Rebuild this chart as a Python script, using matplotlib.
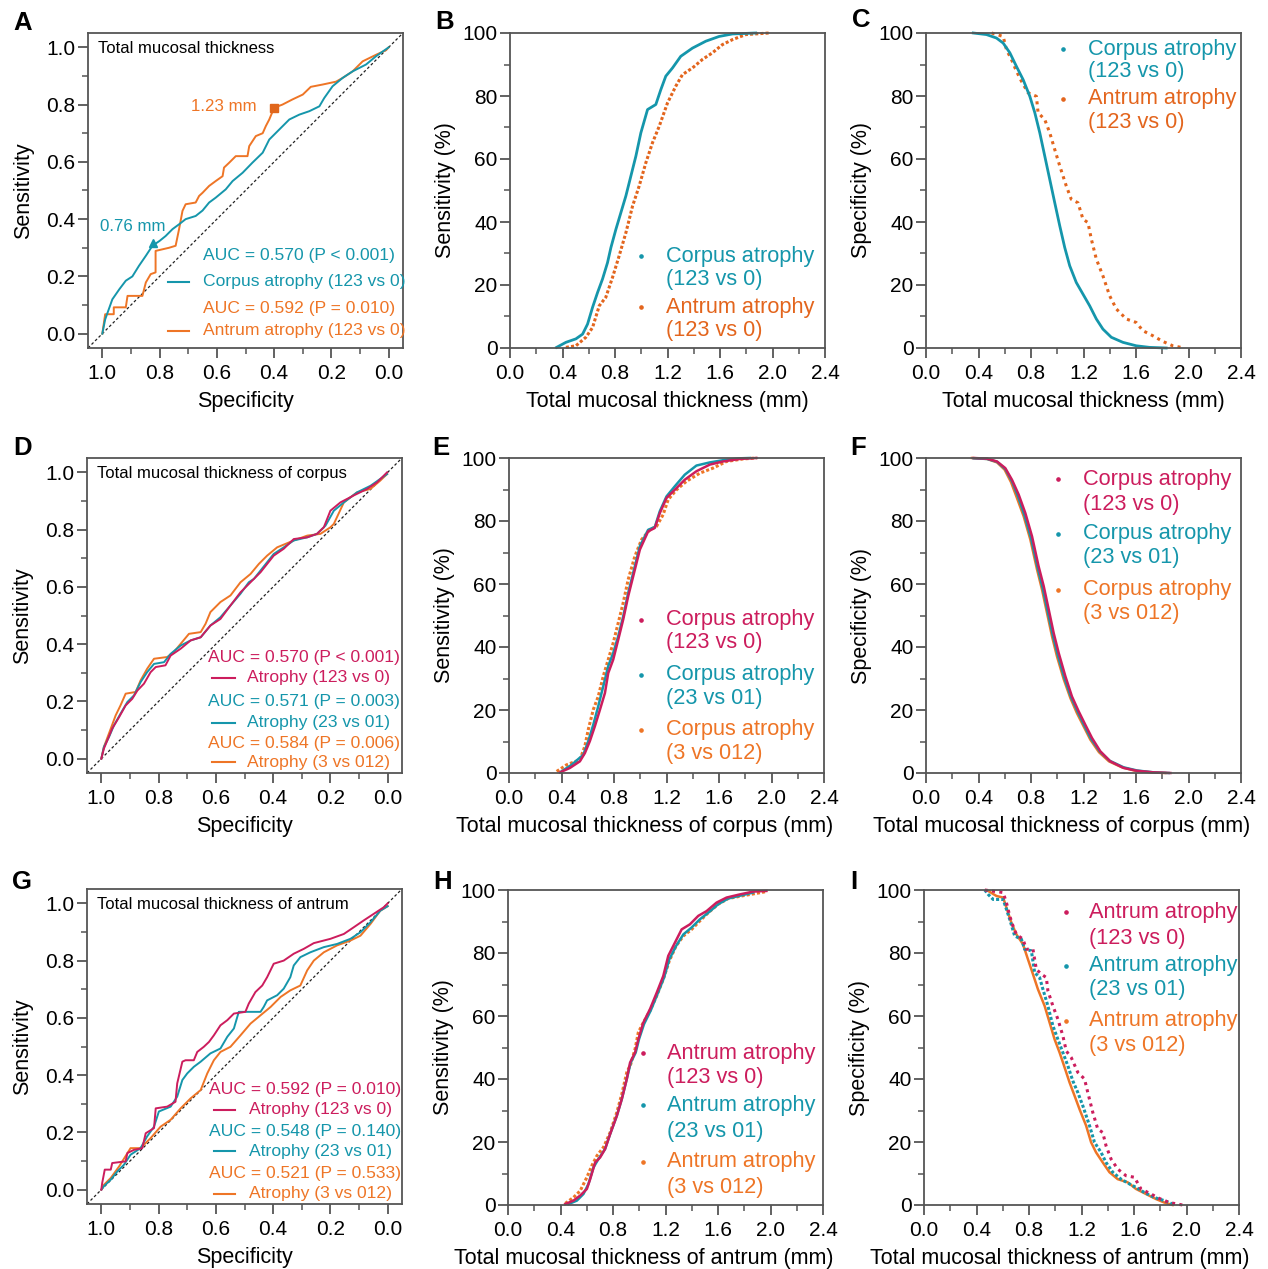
import matplotlib
matplotlib.use("Agg")
import matplotlib.pyplot as plt

plt.rcParams['font.family'] = ['Liberation Sans', 'DejaVu Sans']

TEAL = '#1596ab'
ORANGE = '#ee7526'
MAGENTA = '#cc1d5d'
FRAME = '#555555'

# ---------------- data ----------------
roc_ticks = [1.0, 0.8, 0.6, 0.4, 0.2, 0.0]
roc_ticklabels = ['1.0', '0.8', '0.6', '0.4', '0.2', '0.0']
mm_ticks = [0.0, 0.4, 0.8, 1.2, 1.6, 2.0, 2.4]
mm_ticklabels = ['0.0', '0.4', '0.8', '1.2', '1.6', '2.0', '2.4']
pct_ticks = [0, 20, 40, 60, 80, 100]

# A  (specificity, sensitivity)
a_corpus = [(1.0, 0.0), (0.99, 0.05), (0.965, 0.12), (0.94, 0.156), (0.918, 0.185), (0.895, 0.20),
            (0.872, 0.237), (0.848, 0.272), (0.825, 0.307), (0.80, 0.324), (0.779, 0.341),
            (0.755, 0.365), (0.732, 0.382), (0.709, 0.40), (0.674, 0.411), (0.65, 0.43),
            (0.627, 0.458), (0.604, 0.475), (0.569, 0.504), (0.545, 0.533), (0.51, 0.562),
            (0.476, 0.597), (0.44, 0.632), (0.417, 0.678), (0.382, 0.713), (0.347, 0.748),
            (0.312, 0.765), (0.277, 0.777), (0.242, 0.794), (0.225, 0.823), (0.196, 0.864),
            (0.161, 0.893), (0.126, 0.916), (0.079, 0.94), (0.044, 0.969), (0.0, 1.0)]
a_antrum = [(1.0, 0.0), (0.99, 0.068), (0.96, 0.068), (0.96, 0.092), (0.918, 0.092), (0.912, 0.132),
            (0.86, 0.132), (0.848, 0.179), (0.831, 0.208), (0.814, 0.214), (0.814, 0.289),
            (0.767, 0.30), (0.744, 0.307), (0.732, 0.365), (0.72, 0.429), (0.709, 0.452),
            (0.674, 0.458), (0.662, 0.481), (0.65, 0.492), (0.627, 0.516), (0.604, 0.533),
            (0.58, 0.55), (0.575, 0.58), (0.557, 0.597), (0.534, 0.62), (0.493, 0.62),
            (0.487, 0.655), (0.464, 0.69), (0.44, 0.70), (0.429, 0.725), (0.417, 0.748),
            (0.40, 0.789), (0.371, 0.80), (0.336, 0.818), (0.30, 0.835), (0.272, 0.862),
            (0.231, 0.87), (0.184, 0.88), (0.161, 0.893), (0.126, 0.916), (0.091, 0.951),
            (0.044, 0.974), (0.009, 0.99), (0.0, 1.0)]
a_cut_spec = [0.822, 0.40]
a_cut_sens = [0.318, 0.789]
a_cut_labels = ['0.76 mm', '1.23 mm']
a_auc = ['AUC = 0.570 (P < 0.001)', 'AUC = 0.592 (P = 0.010)']
a_names = ['Corpus atrophy (123 vs 0)', 'Antrum atrophy (123 vs 0)']

# B  (thickness mm, sensitivity %)
b_corpus = [(0.355, 0.2), (0.426, 1.8), (0.502, 2.9), (0.553, 4.4), (0.591, 7.6), (0.629, 12.9),
            (0.667, 17.6), (0.705, 21.9), (0.743, 27.1), (0.769, 31.9), (0.807, 37.7),
            (0.845, 43.0), (0.883, 48.3), (0.921, 54.6), (0.959, 60.9), (0.997, 68.3),
            (1.048, 75.7), (1.111, 77.3), (1.149, 82.0), (1.187, 86.3), (1.238, 88.9),
            (1.301, 92.6), (1.39, 95.2), (1.492, 97.4), (1.593, 98.9), (1.695, 99.7), (1.872, 100)]
b_antrum = [(0.426, 0.2), (0.502, 0.7), (0.578, 3.4), (0.629, 6.5), (0.68, 13.4), (0.73, 16.1),
            (0.781, 22.4), (0.832, 29.3), (0.883, 36.6), (0.934, 45.1), (0.984, 51.4),
            (1.035, 58.8), (1.086, 65.2), (1.137, 70.4), (1.2, 77.8), (1.263, 83.1),
            (1.314, 86.8), (1.39, 88.9), (1.466, 91.6), (1.542, 93.7), (1.618, 96.3),
            (1.695, 97.9), (1.796, 99.5), (1.974, 100)]

# C  (thickness mm, specificity %)
c_corpus = [(0.36, 100), (0.461, 99.5), (0.537, 98.4), (0.588, 96.8), (0.639, 93.7), (0.689, 89.4),
            (0.74, 85.2), (0.791, 79.9), (0.829, 74.7), (0.867, 68.3), (0.905, 60.9),
            (0.943, 53.5), (0.981, 46.1), (1.019, 38.8), (1.057, 31.9), (1.095, 26.1),
            (1.145, 20.8), (1.196, 17.1), (1.247, 13.4), (1.298, 9.2), (1.348, 6.0),
            (1.412, 3.4), (1.5, 1.8), (1.602, 0.7), (1.703, 0.2), (1.83, 0)]
c_antrum = [(0.5, 100), (0.588, 98.9), (0.613, 94.7), (0.651, 91.6), (0.689, 87.9), (0.727, 84.7),
            (0.778, 81.0), (0.841, 79.9), (0.854, 74.7), (0.905, 72.5), (0.943, 68.3),
            (0.981, 63.0), (1.019, 57.8), (1.069, 51.4), (1.107, 47.2), (1.158, 46.1),
            (1.196, 40.9), (1.234, 39.8), (1.26, 34.5), (1.298, 28.2), (1.348, 22.9),
            (1.399, 16.6), (1.45, 12.4), (1.526, 9.2), (1.602, 8.1), (1.652, 5.5),
            (1.728, 3.9), (1.804, 2.1), (1.88, 0.7), (1.969, 0)]
bc_names = [('Corpus atrophy', '(123 vs 0)'), ('Antrum atrophy', '(123 vs 0)')]

# D  (specificity, sensitivity)
d_123 = [(1.0, 0.0), (0.991, 0.035), (0.979, 0.064), (0.962, 0.105), (0.938, 0.145), (0.915, 0.186),
         (0.892, 0.209), (0.874, 0.238), (0.851, 0.262), (0.828, 0.302), (0.81, 0.32),
         (0.776, 0.326), (0.758, 0.36), (0.723, 0.384), (0.688, 0.413), (0.653, 0.424),
         (0.619, 0.465), (0.584, 0.488), (0.549, 0.535), (0.514, 0.581), (0.479, 0.616),
         (0.444, 0.651), (0.421, 0.68), (0.398, 0.709), (0.363, 0.733), (0.328, 0.767),
         (0.281, 0.773), (0.247, 0.785), (0.223, 0.808), (0.2, 0.866), (0.165, 0.895),
         (0.119, 0.919), (0.072, 0.942), (0.037, 0.965), (0.002, 1.0)]
d_23 = [(1.0, 0.0), (0.991, 0.041), (0.973, 0.076), (0.956, 0.116), (0.933, 0.157), (0.909, 0.198),
        (0.886, 0.221), (0.863, 0.267), (0.84, 0.302), (0.816, 0.331), (0.781, 0.337),
        (0.758, 0.366), (0.723, 0.395), (0.688, 0.413), (0.653, 0.424), (0.619, 0.465),
        (0.584, 0.494), (0.549, 0.535), (0.514, 0.576), (0.485, 0.616), (0.467, 0.628),
        (0.444, 0.657), (0.421, 0.686), (0.398, 0.715), (0.363, 0.738), (0.328, 0.762),
        (0.281, 0.773), (0.247, 0.785), (0.217, 0.814), (0.188, 0.866), (0.153, 0.895),
        (0.107, 0.93), (0.06, 0.953), (0.026, 0.977), (0.002, 0.994)]
d_3 = [(1.0, 0.0), (0.991, 0.041), (0.967, 0.105), (0.95, 0.151), (0.933, 0.186), (0.915, 0.227),
       (0.88, 0.233), (0.863, 0.273), (0.84, 0.314), (0.816, 0.349), (0.77, 0.355),
       (0.747, 0.372), (0.723, 0.401), (0.694, 0.436), (0.653, 0.442), (0.636, 0.471),
       (0.619, 0.512), (0.584, 0.547), (0.549, 0.57), (0.514, 0.616), (0.479, 0.645),
       (0.45, 0.68), (0.421, 0.709), (0.386, 0.738), (0.328, 0.762), (0.281, 0.779),
       (0.235, 0.785), (0.2, 0.808), (0.188, 0.82), (0.153, 0.895), (0.107, 0.93),
       (0.06, 0.942), (0.026, 0.971), (0.002, 0.994)]
d_auc = ['AUC = 0.570 (P < 0.001)', 'AUC = 0.571 (P = 0.003)', 'AUC = 0.584 (P = 0.006)']
roc_names = ['Atrophy (123 vs 0)', 'Atrophy (23 vs 01)', 'Atrophy (3 vs 012)']

# E  (corpus thickness mm, sensitivity %)
e_123 = [(0.388, 0.2), (0.464, 1.6), (0.54, 3.7), (0.578, 6.3), (0.616, 10.1), (0.654, 14.8),
         (0.693, 20.1), (0.731, 25.4), (0.756, 31.7), (0.794, 36.0), (0.832, 42.3),
         (0.87, 48.7), (0.908, 56.1), (0.946, 62.4), (0.997, 70.9), (1.06, 76.7),
         (1.111, 77.8), (1.149, 82.5), (1.2, 87.3), (1.263, 89.9), (1.339, 93.1),
         (1.428, 95.8), (1.53, 97.9), (1.631, 98.9), (1.758, 99.7), (1.885, 100)]
e_23 = [(0.4, 0.5), (0.477, 2.6), (0.566, 5.8), (0.604, 10.1), (0.642, 15.3), (0.68, 21.2),
        (0.718, 27.5), (0.756, 33.9), (0.794, 38.1), (0.832, 43.4), (0.87, 49.7),
        (0.908, 57.1), (0.946, 63.5), (0.997, 72.0), (1.06, 77.2), (1.111, 78.1),
        (1.149, 83.1), (1.2, 87.8), (1.263, 91.0), (1.339, 94.7), (1.428, 97.6),
        (1.53, 98.6), (1.631, 99.3), (1.758, 99.9), (1.834, 100)]
e_3 = [(0.363, 0.5), (0.439, 2.6), (0.54, 4.2), (0.578, 8.5), (0.604, 13.8), (0.642, 20.1),
       (0.68, 24.3), (0.718, 30.7), (0.756, 36.0), (0.794, 41.3), (0.832, 47.6),
       (0.87, 54.0), (0.908, 61.4), (0.959, 68.8), (1.01, 74.1), (1.073, 77.2),
       (1.124, 78.3), (1.174, 82.0), (1.213, 86.8), (1.276, 89.9), (1.352, 92.6),
       (1.454, 95.2), (1.555, 96.8), (1.657, 98.9), (1.783, 99.7), (1.885, 100)]

# F  (corpus thickness mm, specificity %)
f_123 = [(0.363, 100), (0.465, 99.8), (0.541, 98.9), (0.604, 96.8), (0.655, 93.1), (0.706, 88.4),
         (0.757, 82.5), (0.808, 75.1), (0.858, 65.6), (0.897, 59.3), (0.935, 51.9),
         (0.973, 44.4), (1.011, 38.1), (1.062, 30.7), (1.112, 24.3), (1.163, 19.6),
         (1.214, 15.3), (1.265, 11.1), (1.328, 6.9), (1.404, 3.7), (1.506, 1.6),
         (1.608, 0.7), (1.735, 0.2), (1.862, 0)]
f_23 = [(0.363, 99.9), (0.465, 99.7), (0.541, 98.8), (0.604, 96.5), (0.655, 92.6), (0.701, 87.8),
        (0.749, 82.0), (0.8, 74.6), (0.851, 65.1), (0.889, 58.7), (0.927, 51.3),
        (0.965, 43.9), (1.003, 37.6), (1.054, 30.2), (1.105, 24.1), (1.156, 19.4),
        (1.206, 15.1), (1.257, 10.9), (1.323, 6.9), (1.399, 3.9), (1.506, 1.8),
        (1.608, 0.8), (1.735, 0.2), (1.849, 0)]
f_3 = [(0.35, 100), (0.465, 99.7), (0.541, 98.6), (0.599, 96.3), (0.648, 92.3), (0.693, 87.3),
       (0.744, 81.5), (0.795, 74.1), (0.846, 64.6), (0.884, 58.2), (0.922, 50.8),
       (0.96, 43.4), (0.998, 37.0), (1.049, 29.8), (1.1, 23.8), (1.15, 19.0),
       (1.201, 14.8), (1.252, 10.6), (1.318, 6.6), (1.394, 3.7), (1.493, 1.8),
       (1.595, 0.7), (1.709, 0.2), (1.823, 0)]
ef_names = [('Corpus atrophy', '(123 vs 0)'), ('Corpus atrophy', '(23 vs 01)'),
            ('Corpus atrophy', '(3 vs 012)')]

# G  (specificity, sensitivity)
g_123 = [(1.0, 0.0), (0.997, 0.023), (0.988, 0.07), (0.967, 0.07), (0.962, 0.093), (0.915, 0.099),
         (0.909, 0.128), (0.886, 0.139), (0.857, 0.145), (0.845, 0.197), (0.816, 0.215),
         (0.81, 0.284), (0.77, 0.29), (0.741, 0.307), (0.735, 0.371), (0.717, 0.447),
         (0.706, 0.452), (0.677, 0.452), (0.665, 0.481), (0.642, 0.499), (0.624, 0.516),
         (0.607, 0.539), (0.584, 0.574), (0.56, 0.592), (0.537, 0.615), (0.497, 0.621),
         (0.485, 0.65), (0.462, 0.69), (0.438, 0.713), (0.421, 0.742), (0.398, 0.789),
         (0.363, 0.80), (0.328, 0.824), (0.293, 0.841), (0.258, 0.861), (0.2, 0.876),
         (0.153, 0.893), (0.119, 0.916), (0.084, 0.94), (0.049, 0.963), (0.014, 0.986), (0.0, 1.0)]
g_23 = [(1.0, 0.0), (0.991, 0.012), (0.967, 0.035), (0.944, 0.064), (0.921, 0.087), (0.898, 0.122),
        (0.863, 0.145), (0.84, 0.186), (0.816, 0.22), (0.799, 0.273), (0.758, 0.29),
        (0.735, 0.325), (0.717, 0.383), (0.7, 0.406), (0.677, 0.429), (0.653, 0.447),
        (0.619, 0.476), (0.584, 0.493), (0.56, 0.534), (0.537, 0.563), (0.52, 0.621),
        (0.444, 0.621), (0.433, 0.638), (0.421, 0.661), (0.386, 0.679), (0.363, 0.702),
        (0.34, 0.742), (0.328, 0.783), (0.305, 0.812), (0.27, 0.829), (0.223, 0.847),
        (0.177, 0.858), (0.13, 0.876), (0.095, 0.899), (0.06, 0.934), (0.026, 0.974), (0.0, 0.99)]
g_3 = [(1.0, 0.0), (0.991, 0.017), (0.967, 0.041), (0.938, 0.081), (0.898, 0.145), (0.863, 0.145),
       (0.828, 0.18), (0.793, 0.22), (0.758, 0.244), (0.723, 0.284), (0.688, 0.319),
       (0.653, 0.348), (0.63, 0.406), (0.607, 0.452), (0.584, 0.481), (0.549, 0.499),
       (0.514, 0.539), (0.479, 0.58), (0.444, 0.609), (0.409, 0.638), (0.374, 0.673),
       (0.34, 0.696), (0.305, 0.713), (0.281, 0.766), (0.258, 0.80), (0.223, 0.829),
       (0.177, 0.853), (0.13, 0.87), (0.095, 0.887), (0.06, 0.928), (0.026, 0.974), (0.0, 0.99)]
g_auc = ['AUC = 0.592 (P = 0.010)', 'AUC = 0.548 (P = 0.140)', 'AUC = 0.521 (P = 0.533)']

# H  (antrum thickness mm, sensitivity %)
h_123 = [(0.436, 0.3), (0.499, 1.4), (0.55, 3.0), (0.601, 5.1), (0.626, 8.2), (0.664, 13.5),
         (0.702, 15.1), (0.74, 17.8), (0.778, 22.5), (0.829, 28.3), (0.867, 33.6),
         (0.905, 40.0), (0.93, 45.2), (0.968, 48.4), (0.993, 52.6), (1.031, 57.9),
         (1.082, 62.2), (1.133, 67.4), (1.183, 72.7), (1.221, 79.1), (1.272, 83.3),
         (1.323, 87.5), (1.386, 89.1), (1.45, 91.8), (1.513, 93.3), (1.589, 96.0),
         (1.665, 97.6), (1.766, 98.6), (1.868, 99.5), (1.969, 99.7)]
h_23 = [(0.461, 0.3), (0.525, 1.4), (0.575, 3.5), (0.613, 6.7), (0.651, 11.9), (0.689, 14.6),
        (0.74, 17.8), (0.778, 22.5), (0.829, 28.3), (0.867, 33.6), (0.905, 40.0),
        (0.935, 45.2), (0.973, 48.4), (0.998, 52.6), (1.036, 57.4), (1.087, 61.7),
        (1.138, 66.9), (1.189, 72.2), (1.229, 78.0), (1.28, 82.2), (1.336, 85.9),
        (1.399, 88.1), (1.462, 90.7), (1.526, 92.8), (1.602, 95.5), (1.678, 97.3),
        (1.779, 98.3), (1.868, 99.2)]
h_3 = [(0.436, 0.5), (0.499, 2.4), (0.55, 4.5), (0.601, 8.8), (0.639, 12.5), (0.677, 15.6),
       (0.727, 18.3), (0.778, 23.0), (0.829, 29.4), (0.867, 35.2), (0.905, 42.1),
       (0.935, 44.7), (0.968, 49.5), (0.993, 54.8), (1.031, 57.9), (1.082, 61.7),
       (1.133, 66.4), (1.183, 71.7), (1.229, 77.5), (1.28, 82.2), (1.336, 85.4),
       (1.399, 87.5), (1.462, 90.2), (1.526, 92.8), (1.602, 95.5), (1.678, 97.3),
       (1.779, 98.1), (1.969, 99.5)]

# I  (antrum thickness mm, specificity %)
i_123 = [(0.463, 100), (0.514, 99.7), (0.603, 99.2), (0.628, 96.0), (0.653, 91.8), (0.678, 88.6),
         (0.704, 85.9), (0.754, 84.4), (0.78, 81.2), (0.83, 81.2), (0.856, 74.8),
         (0.894, 73.3), (0.932, 72.2), (0.944, 68.0), (0.982, 63.2), (1.02, 59.0),
         (1.058, 53.7), (1.084, 48.9), (1.122, 46.8), (1.172, 42.1), (1.223, 40.0),
         (1.248, 35.7), (1.286, 29.4), (1.324, 24.1), (1.362, 23.0), (1.387, 18.8),
         (1.425, 14.6), (1.476, 11.4), (1.539, 9.3), (1.603, 8.8), (1.653, 5.1),
         (1.729, 3.5), (1.792, 2.1), (1.868, 0.8), (1.969, 0)]
i_23 = [(0.463, 100), (0.489, 98.6), (0.527, 97.0), (0.603, 97.0), (0.628, 93.9), (0.653, 90.7),
        (0.691, 85.4), (0.742, 84.4), (0.767, 81.2), (0.818, 80.7), (0.843, 73.8),
        (0.881, 72.2), (0.906, 68.5), (0.944, 63.2), (0.982, 56.9), (1.02, 52.6),
        (1.058, 48.4), (1.096, 44.2), (1.134, 39.4), (1.172, 35.7), (1.21, 31.5),
        (1.261, 25.2), (1.299, 19.9), (1.349, 16.7), (1.387, 13.5), (1.438, 10.4),
        (1.501, 8.2), (1.565, 6.7), (1.615, 5.6), (1.678, 4.0), (1.754, 2.4),
        (1.83, 1.4), (1.894, 0.3)]
i_3 = [(0.489, 99.7), (0.552, 98.1), (0.603, 97.6), (0.628, 94.4), (0.666, 89.6), (0.704, 85.9),
       (0.754, 82.8), (0.792, 78.0), (0.83, 73.3), (0.868, 68.5), (0.919, 63.2),
       (0.957, 57.9), (0.995, 52.6), (1.033, 48.4), (1.071, 43.7), (1.109, 38.9),
       (1.147, 34.7), (1.185, 30.4), (1.235, 25.2), (1.273, 19.9), (1.311, 16.7),
       (1.362, 13.5), (1.413, 10.4), (1.476, 8.2), (1.552, 7.2), (1.615, 5.1),
       (1.691, 3.5), (1.767, 1.9), (1.83, 0.8), (1.894, 0)]
hi_names = [('Antrum atrophy', '(123 vs 0)'), ('Antrum atrophy', '(23 vs 01)'),
            ('Antrum atrophy', '(3 vs 012)')]

# ---------------- figure ----------------
W, H = 1268, 1269
fig = plt.figure(figsize=(W / 100, H / 100), dpi=100)


def place(left, top, w=315, h=315):
    return fig.add_axes([left / W, 1 - (top + h) / H, w / W, h / H])


def style(ax, xlab_x=0.5):
    for s in ax.spines.values():
        s.set_color(FRAME)
        s.set_linewidth(1.3)
    ax.tick_params(which='major', length=7.5, width=1.3, color=FRAME, labelsize=15)
    ax.tick_params(which='minor', length=4, width=1.1, color=FRAME)
    ax.tick_params(axis='y', which='major', pad=1.5)
    ax.tick_params(axis='x', which='major', pad=4)
    ax.yaxis.set_label_coords(-0.172, 0.5)
    ax.xaxis.set_label_coords(xlab_x, -0.135)


def roc_axes(ax, title):
    ax.set_xlim(1.05, -0.05)
    ax.set_ylim(-0.05, 1.05)
    ax.set_xticks(roc_ticks, roc_ticklabels)
    ax.set_yticks(roc_ticks, roc_ticklabels)
    ax.set_xticks([0.9, 0.7, 0.5, 0.3, 0.1], minor=True)
    ax.set_yticks([0.9, 0.7, 0.5, 0.3, 0.1], minor=True)
    ax.plot([1.05, -0.05], [-0.05, 1.05], color='#222222', lw=0.9, ls=(0, (2.2, 1.8)))
    ax.set_xlabel('Specificity', fontsize=15.5)
    ax.set_ylabel('Sensitivity', fontsize=15.5)
    ax.text(0.033, 0.95, title, transform=ax.transAxes, fontsize=12, va='center')
    style(ax)


def mm_axes(ax, xlabel, ylabel, xlab_x=0.5):
    ax.set_xlim(0, 2.4)
    ax.set_ylim(0, 100)
    ax.set_xticks(mm_ticks, mm_ticklabels)
    ax.set_xticks([0.2, 0.6, 1.0, 1.4, 1.8, 2.2], minor=True)
    ax.set_yticks(pct_ticks)
    ax.set_yticks([10, 30, 50, 70, 90], minor=True)
    ax.set_xlabel(xlabel, fontsize=15.5)
    ax.set_ylabel(ylabel, fontsize=15.5)
    style(ax, xlab_x)


def curve(ax, pts, color, ls='-', lw=1.6):
    xs, ys = zip(*pts)
    ax.plot(xs, ys, color=color, ls=ls, lw=lw, clip_on=False)


def roc_legend(ax, aucs, names, colors, ys, x_auc, x_line, x_name):
    for i, (auc, name, c) in enumerate(zip(aucs, names, colors)):
        ax.text(x_auc, ys[2 * i], auc, color=c, transform=ax.transAxes,
                fontsize=12.6, va='center', ha='left')
        ax.plot(x_line, [ys[2 * i + 1]] * 2, color=c, lw=1.5, transform=ax.transAxes)
        ax.text(x_name, ys[2 * i + 1], name, color=c, transform=ax.transAxes,
                fontsize=12.6, va='center', ha='left')


def dot_legend(ax, names, colors, ys, x_dot, x_text):
    for (l1, l2), c, (y1, y2) in zip(names, colors, ys):
        ax.plot([x_dot], [y1], 'o', ms=2.3, color=c, transform=ax.transAxes)
        ax.text(x_text, y1, l1, color=c, transform=ax.transAxes, fontsize=15.7, va='center')
        ax.text(x_text, y2, l2, color=c, transform=ax.transAxes, fontsize=15.7, va='center')


DOTS = (0, (1.0, 0.7))
SPARSE = (0, (1.0, 1.4))
LONG_X = 0.43   # long x titles sit left of the axis centre in the original

# A
ax = place(88, 33)
roc_axes(ax, 'Total mucosal thickness')
curve(ax, a_antrum, ORANGE, lw=1.4)
curve(ax, a_corpus, TEAL, lw=1.4)
ax.plot(a_cut_spec[0], a_cut_sens[0], '^', color=TEAL, ms=6)
ax.plot(a_cut_spec[1], a_cut_sens[1], 's', color='#e0661c', ms=6)
ax.text(0.78, 0.376, a_cut_labels[0], color=TEAL, fontsize=12.2, ha='right', va='center')
ax.text(0.46, 0.792, a_cut_labels[1], color=ORANGE, fontsize=12.2, ha='right', va='center')
roc_legend(ax, a_auc, a_names, [TEAL, ORANGE], [0.2925, 0.21, 0.126, 0.055],
           0.366, [0.253, 0.322], 0.364)

# B
ax = place(510, 33)
mm_axes(ax, 'Total mucosal thickness (mm)', 'Sensitivity (%)')
curve(ax, b_antrum, '#e3651d', ls=DOTS, lw=2.2)
curve(ax, b_corpus, TEAL, lw=2.0)
dot_legend(ax, bc_names, [TEAL, '#e3651d'], [(0.292, 0.219), (0.129, 0.055)], 0.415, 0.495)

# C
ax = place(926, 33)
mm_axes(ax, 'Total mucosal thickness (mm)', 'Specificity (%)')
curve(ax, c_antrum, '#e3651d', ls=SPARSE, lw=2.2)
curve(ax, c_corpus, TEAL, lw=2.0)
dot_legend(ax, bc_names, [TEAL, '#e3651d'], [(0.949, 0.879), (0.791, 0.717)], 0.435, 0.514)

# D
ax = place(87, 458)
roc_axes(ax, 'Total mucosal thickness of corpus')
curve(ax, d_3, ORANGE, lw=1.4)
curve(ax, d_23, TEAL, lw=1.4)
curve(ax, d_123, MAGENTA, lw=1.4)
roc_legend(ax, d_auc, roc_names, [MAGENTA, TEAL, ORANGE],
           [0.366, 0.302, 0.228, 0.159, 0.095, 0.034], 0.385, [0.398, 0.47], 0.509)

# E
ax = place(509, 458)
mm_axes(ax, 'Total mucosal thickness of corpus (mm)', 'Sensitivity (%)', LONG_X)
curve(ax, e_3, ORANGE, ls=DOTS, lw=2.2)
curve(ax, e_23, TEAL, lw=1.8)
curve(ax, e_123, MAGENTA, lw=1.8)
dot_legend(ax, ef_names, [MAGENTA, TEAL, ORANGE],
           [(0.487, 0.413), (0.312, 0.235), (0.138, 0.061)], 0.418, 0.497)

# F
ax = place(926, 458)
mm_axes(ax, 'Total mucosal thickness of corpus (mm)', 'Specificity (%)', LONG_X)
curve(ax, f_3, ORANGE, lw=1.8)
curve(ax, f_23, TEAL, lw=1.8)
curve(ax, f_123, MAGENTA, lw=1.8)
dot_legend(ax, ef_names, [MAGENTA, TEAL, ORANGE],
           [(0.933, 0.852), (0.759, 0.683), (0.582, 0.506)], 0.418, 0.497)

# G
ax = place(87, 889)
roc_axes(ax, 'Total mucosal thickness of antrum')
curve(ax, g_3, ORANGE, lw=1.4)
curve(ax, g_23, TEAL, lw=1.4)
curve(ax, g_123, MAGENTA, lw=1.4)
roc_legend(ax, g_auc, roc_names, [MAGENTA, TEAL, ORANGE],
           [0.364, 0.299, 0.231, 0.168, 0.098, 0.032], 0.386, [0.402, 0.47], 0.513)

# H
ax = place(508, 890)
mm_axes(ax, 'Total mucosal thickness of antrum (mm)', 'Sensitivity (%)', LONG_X)
curve(ax, h_3, ORANGE, ls=DOTS, lw=2.2)
curve(ax, h_23, TEAL, lw=1.8)
curve(ax, h_123, MAGENTA, lw=1.8)
dot_legend(ax, hi_names, [MAGENTA, TEAL, ORANGE],
           [(0.481, 0.405), (0.317, 0.233), (0.137, 0.056)], 0.428, 0.506)

# I
ax = place(924, 890)
mm_axes(ax, 'Total mucosal thickness of antrum (mm)', 'Specificity (%)', LONG_X)
curve(ax, i_3, ORANGE, lw=1.8)
curve(ax, i_23, TEAL, ls=DOTS, lw=2.2)
curve(ax, i_123, MAGENTA, ls=SPARSE, lw=2.2)
dot_legend(ax, hi_names, [MAGENTA, TEAL, ORANGE],
           [(0.93, 0.846), (0.759, 0.683), (0.585, 0.507)], 0.451, 0.523)

# panel letters
letters = ['A', 'B', 'C', 'D', 'E', 'F', 'G', 'H', 'I']
letter_x = [13, 435, 852, 13, 432, 850, 12, 433, 850]
letter_y = [11, 10, 8, 436, 436, 436, 870, 870, 870]
for t, x, y in zip(letters, letter_x, letter_y):
    fig.text(x / W, 1 - y / H, t, fontsize=18.5, fontweight='bold', va='top', ha='left')

fig.savefig('out.png', dpi=100)
